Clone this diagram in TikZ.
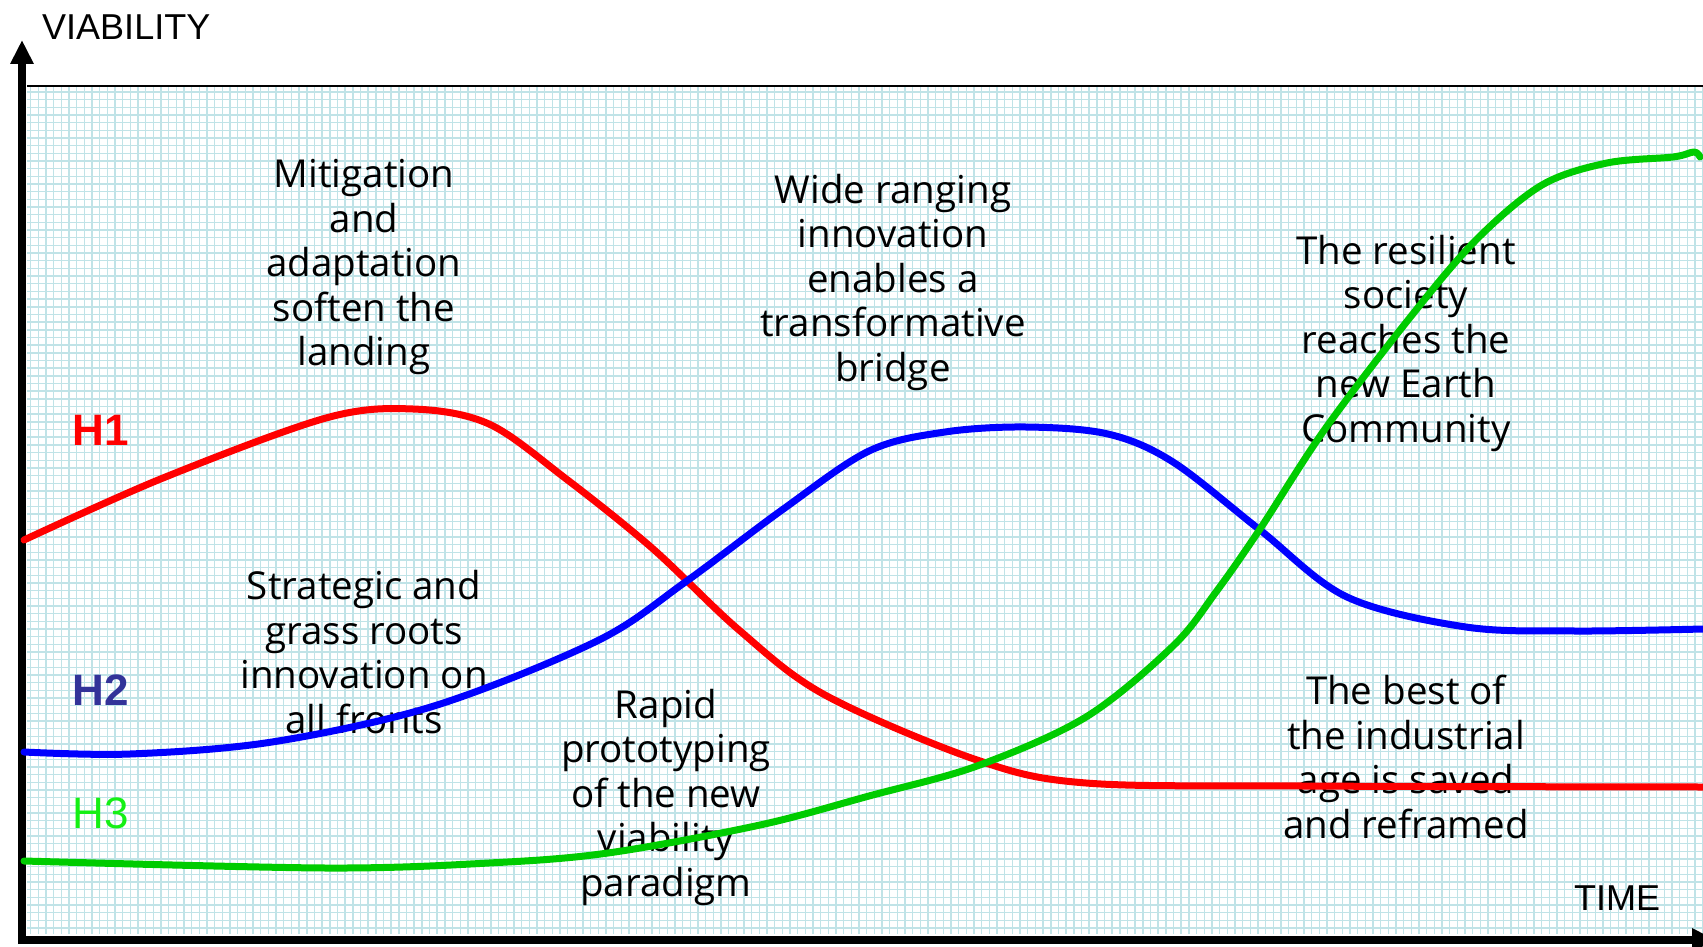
\documentclass[tikz,border=0pt]{standalone}
\usepackage{fontspec}
\setmainfont{Open Sans}
\newfontfamily\arialfont{Liberation Sans}
\usetikzlibrary{arrows.meta}
\definecolor{gridcyan}{RGB}{192,227,231}
\definecolor{hred}{RGB}{255,0,0}
\definecolor{hblue}{RGB}{0,0,255}
\definecolor{hgreen}{RGB}{0,204,0}
\definecolor{htwo}{RGB}{51,51,153}
\definecolor{hthree}{RGB}{20,240,20}

\begin{document}
\begin{tikzpicture}[x=1pt,y=-1pt,
    note/.style      = {align=center, inner sep=0pt,
                        font=\fontsize{38.5}{44.5}\selectfont},
    axislabel/.style = {anchor=west, inner sep=0pt,
                        font=\arialfont\fontsize{36}{40}\selectfont},
    hlabel/.style    = {inner sep=0pt,
                        font=\arialfont\fontsize{44}{48}\selectfont},
    hbold/.style     = {hlabel, font=\arialfont\bfseries\fontsize{44}{48}\selectfont},
    curve/.style     = {line width=7pt, line join=round, line cap=round},
    axisline/.style  = {line width=8pt, -{Triangle[width=22pt,length=24pt]}}
  ]
  \useasboundingbox (0,0) rectangle (1703,947);
  \fill[white] (0,0) rectangle (1703,947);
  % squared paper
  \draw[gridcyan, line width=1.4pt, step=7.67pt] (27,86) grid (1703,934);
  \draw[line width=2pt] (27,86) -- (1703,86);

  % axes
  \draw[axisline] (22,944) -- (22,40);
  \draw[axisline] (18,940) -- (1716,940);
  \node[axislabel] (viability) at (42,27) {VIABILITY};
  \node[axislabel] (time) at (1574,898) {TIME};

  % horizons
  \node[hbold, text=hred] (hone) at (101,430) {H1};
  \node[hbold, text=htwo] (htwo) at (101,690) {H2};
  \node[hlabel, text=hthree] (hthree) at (101,813) {H3};

  % notes
  \node[note] (mitigation) at (364,267) {Mitigation\\and\\adaptation\\soften the\\landing};
  \node[note] (wide) at (893,282) {Wide ranging\\innovation\\enables a\\transformative\\bridge};
  \node[note] (resilient) at (1406,343) {The resilient\\society\\reaches the\\new Earth\\Community};
  \node[note] (strategic) at (364,652) {Strategic and\\grass roots\\innovation on\\all fronts};
  \node[note] (rapid) at (666,797) {Rapid\\prototyping\\of the new\\viability\\paradigm};
  \node[note] (best) at (1406,757) {The best of\\the industrial\\age is saved\\and reframed};

  % curves
  \draw[curve, hred] plot[smooth, tension=0.55] coordinates {
    (24,540) (163,478) (326,418) (413,409) (489,424) (565,478) (652,548)
    (739,630) (825,695) (977,760) (1086,783) (1303,786) (1703,787)};
  \draw[curve, hblue] plot[smooth, tension=0.55] coordinates {
    (24,752) (130,754) (272,742) (434,706) (597,641) (684,583) (782,510)
    (869,451) (945,432) (1026,427) (1108,434) (1173,462) (1260,530)
    (1347,597) (1466,627) (1575,631) (1703,629)};
  \draw[curve, hgreen] plot[smooth, tension=0.55] coordinates {
    (24,861) (326,868) (489,863) (608,853) (760,825) (869,796) (977,766)
    (1086,717) (1173,646) (1216,592) (1260,529) (1325,429) (1412,315)
    (1477,239) (1542,185) (1607,163) (1673,157) (1694,152) (1700,157)};
\end{tikzpicture}
\end{document}
